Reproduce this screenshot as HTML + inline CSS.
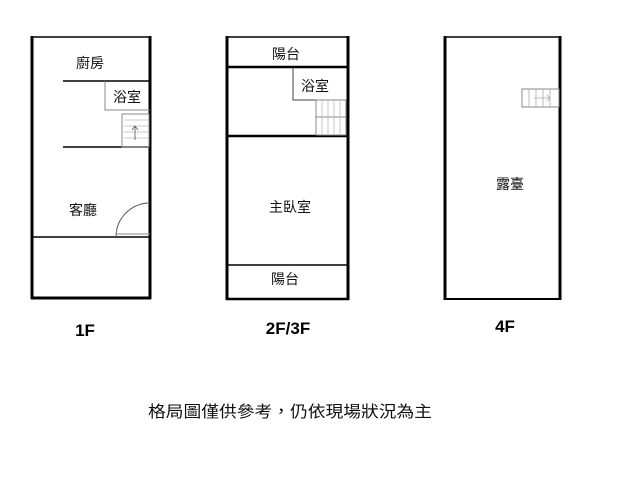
<!DOCTYPE html><html><head><style>body{margin:0;background:#fff}svg text{font-family:"Liberation Sans","Noto Sans CJK TC",sans-serif}</style></head><body>
<svg width="640" height="480" viewBox="0 0 640 480" xmlns="http://www.w3.org/2000/svg">
<g stroke="#000" fill="none">
<!-- 1F -->
<line x1="32" y1="37" x2="151" y2="37" stroke-width="1.5"/>
<line x1="32" y1="36" x2="32" y2="299" stroke-width="3"/>
<line x1="150" y1="36" x2="150" y2="299" stroke-width="3"/>
<line x1="31" y1="298" x2="151" y2="298" stroke-width="3"/>
<line x1="63" y1="81" x2="150" y2="81" stroke-width="1.5"/>
<line x1="63" y1="147" x2="150" y2="147" stroke-width="1.5"/>
<line x1="32" y1="237" x2="150" y2="237" stroke-width="1.5"/>
<path d="M105 81V110H150" stroke="#888" stroke-width="1"/>
<rect x="122" y="114" width="27" height="33" stroke="#888" stroke-width="1"/>
<path d="M124 120H148M124 126H148M124 132H148M124 138H148" stroke="#bbb" stroke-width="0.8"/>
<path d="M135 140V126M132 130L135 126L138 130" stroke="#555" stroke-width="0.8"/>
<path d="M150 203A34 34 0 0 0 116 237" stroke="#555" stroke-width="1"/>
<line x1="116" y1="234" x2="150" y2="234" stroke="#888" stroke-width="1"/>
<!-- 2F -->
<line x1="227" y1="37" x2="348" y2="37" stroke-width="1.5"/>
<line x1="227" y1="36" x2="227" y2="300" stroke-width="3"/>
<line x1="348" y1="36" x2="348" y2="300" stroke-width="3"/>
<line x1="226" y1="299" x2="349" y2="299" stroke-width="2.5"/>
<line x1="227" y1="67" x2="348" y2="67" stroke-width="2.5"/>
<line x1="227" y1="136" x2="348" y2="136" stroke-width="2.5"/>
<line x1="227" y1="265" x2="348" y2="265" stroke-width="1.5"/>
<path d="M293 67V100H347" stroke="#444" stroke-width="1"/>
<rect x="316" y="100" width="30" height="35" stroke="#888" stroke-width="1"/>
<line x1="316" y1="117" x2="346" y2="117" stroke="#888" stroke-width="1"/>
<path d="M322 100V135M328 100V135M334 100V135M340 100V135" stroke="#bbb" stroke-width="0.8"/>
<!-- 4F -->
<line x1="445" y1="37" x2="560" y2="37" stroke-width="1.5"/>
<line x1="445" y1="36" x2="445" y2="300" stroke-width="3"/>
<line x1="560" y1="36" x2="560" y2="300" stroke-width="3"/>
<line x1="444" y1="299" x2="561" y2="299" stroke-width="2"/>
<rect x="522" y="89" width="37" height="18" stroke="#888" stroke-width="1"/>
<path d="M529 89V107M536 89V107M543 89V107M550 89V107M534 98H550M547 95L550 98L547 101" stroke="#aaa" stroke-width="0.8"/>
</g>
<g font-size="14" fill="#111" text-anchor="middle">
<text x="90" y="68">廚房</text>
<text x="127" y="102">浴室</text>
<text x="83" y="215">客廳</text>
<text x="286" y="59">陽台</text>
<text x="315" y="91">浴室</text>
<text x="290" y="212">主臥室</text>
<text x="285" y="284">陽台</text>
<text x="510" y="189">露臺</text>
</g>
<text x="148" y="417" font-size="16" fill="#111" textLength="284" lengthAdjust="spacingAndGlyphs">格局圖僅供參考，仍依現場狀況為主</text>
<g font-size="17" font-weight="bold" text-anchor="middle" fill="#000">
<text x="85" y="336">1F</text>
<text x="288" y="334">2F/3F</text>
<text x="505" y="332">4F</text>
</g>
</svg></body></html>
